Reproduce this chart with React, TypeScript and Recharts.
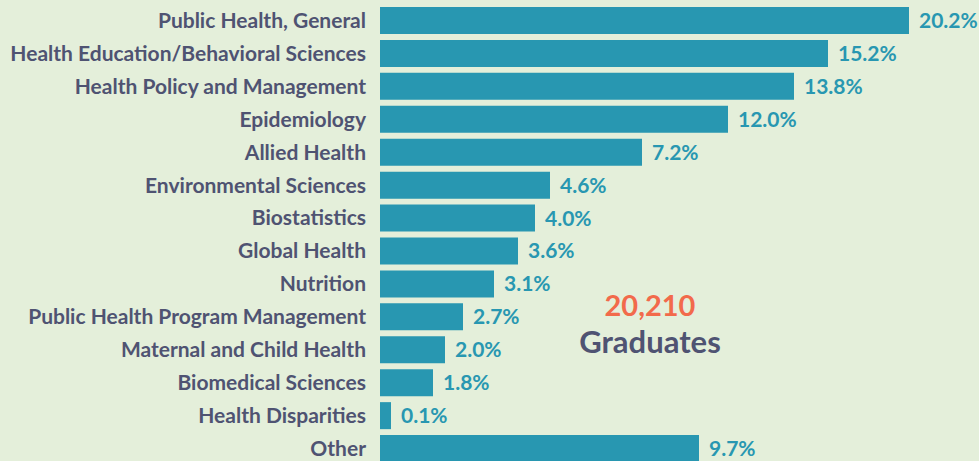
import { BarChart, Bar, XAxis, YAxis, LabelList } from 'recharts'

const categories = [
  'Public Health, General',
  'Health Education/Behavioral Sciences',
  'Health Policy and Management',
  'Epidemiology',
  'Allied Health',
  'Environmental Sciences',
  'Biostatistics',
  'Global Health',
  'Nutrition',
  'Public Health Program Management',
  'Maternal and Child Health',
  'Biomedical Sciences',
  'Health Disparities',
  'Other',
]

// printed shares
const shareLabels = ['20.2%','15.2%','13.8%','12.0%','7.2%','4.6%','4.0%','3.6%','3.1%','2.7%','2.0%','1.8%','0.1%','9.7%']

// drawn bar lengths as they appear in the graphic (not proportional to the shares)
const barLengths = [529, 448, 414, 348, 262, 170, 155, 138, 114, 83, 65, 53, 11, 319]

const data = categories.map((name, i) => ({ name, len: barLengths[i], label: shareLabels[i] }))

const FONT = 'Lato, "Open Sans", sans-serif'
const BG = '#e4efda'
const TEAL = '#2897b1'
const INK = '#4f5372'

export default function App() {
  return (
    <div style={{ position: 'absolute', left: 0, top: 0, width: 979, height: 461, overflow: 'hidden', background: BG, fontFamily: FONT }}>
      <BarChart width={979} height={470} data={data} layout="vertical"
        margin={{ top: 4, right: 0, bottom: 5, left: 0 }} barSize={27}>
        <XAxis type="number" domain={[0, 599]} hide />
        <YAxis type="category" dataKey="name" width={380} axisLine={false} tickLine={false} tickMargin={8}
          interval={0}
          tick={{ fill: INK, fontSize: 21, fontWeight: 700, fontFamily: FONT }} />
        <Bar dataKey="len" fill={TEAL} isAnimationActive={false}>
          <LabelList dataKey="label" position="right" offset={10}
            style={{ fill: TEAL, fontSize: 21, fontWeight: 700, fontFamily: FONT }} />
        </Bar>
      </BarChart>
      <div style={{ position: 'absolute', left: 550, width: 200, top: 289, textAlign: 'center', color: '#f26a4b', fontSize: 29, fontWeight: 700, lineHeight: '32px' }}>20,210</div>
      <div style={{ position: 'absolute', left: 550, width: 200, top: 324, textAlign: 'center', color: INK, fontSize: 31, fontWeight: 700, lineHeight: '34px' }}>Graduates</div>
    </div>
  )
}
